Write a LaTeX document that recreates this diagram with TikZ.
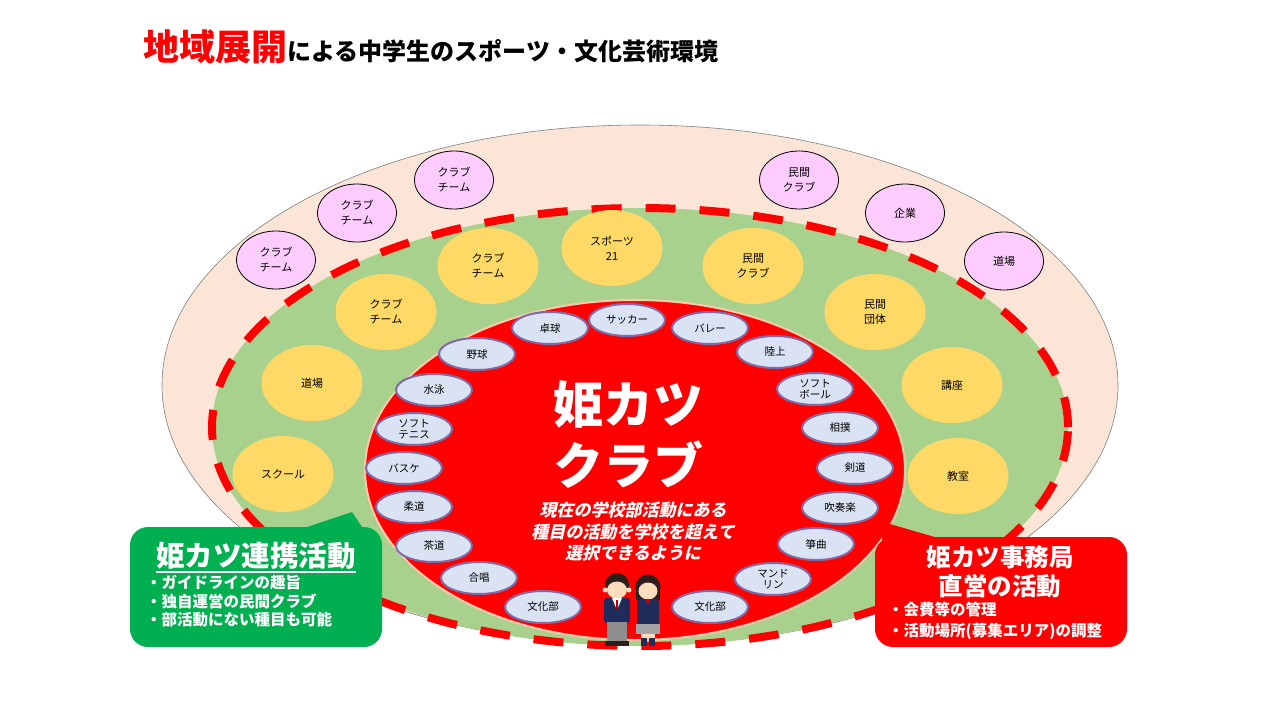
\documentclass[tikz,border=0pt]{standalone}
\usepackage{fontspec}
\setmainfont{Noto Sans CJK JP}
\newfontfamily\slantfont{Noto Sans CJK JP}[FakeSlant=0.22]
\usetikzlibrary{shapes.geometric}
\definecolor{peach}{HTML}{FBE5D6}
\definecolor{lgreen}{HTML}{A9D18E}
\definecolor{yel}{HTML}{FFD966}
\definecolor{pinkc}{HTML}{FFCCFF}
\definecolor{redc}{HTML}{FF0000}
\definecolor{lblue}{HTML}{DAE3F3}
\definecolor{ovalborder}{HTML}{7F6AA6}
\definecolor{greenbox}{HTML}{00B050}
\definecolor{redborder}{HTML}{F8CBAD}
\definecolor{hair}{HTML}{2E1E1A}
\definecolor{skin}{HTML}{FDDCBE}
\definecolor{navy}{HTML}{1F2C5C}
\definecolor{grayp}{HTML}{8E8E8E}
\tikzset{
  sport/.style={ellipse, fill=lblue, draw=ovalborder, line width=2pt, minimum width=76pt, minimum height=32pt, inner sep=0pt, align=center, font=\fontsize{10.5}{11.5}\selectfont},
  yc/.style={ellipse, fill=yel, minimum width=101pt, minimum height=76pt, inner sep=0pt, align=center, font=\fontsize{11}{15}\selectfont},
  pc/.style={ellipse, fill=pinkc, draw=black, line width=0.8pt, minimum width=79pt, minimum height=58pt, inner sep=0pt, align=center, font=\fontsize{11}{15}\selectfont},
  bullet/.style={anchor=west, text=white, inner sep=0pt, font=\fontsize{15.5}{18}\selectfont\bfseries},
}
\begin{document}
\begin{tikzpicture}[x=1pt,y=-1pt]
\fill[white] (0,0) rectangle (1280,720);
\useasboundingbox (0,0) rectangle (1280,720);

% title
\node[anchor=base west, inner sep=0pt] (title) at (143,60)
  {{\color{redc}\fontsize{36}{40}\selectfont\bfseries 地域展開}{\fontsize{24}{28}\selectfont\bfseries による中学生のスポーツ・文化芸術環境}};

% layers
\fill[peach, draw=gray, line width=0.6pt] (640,385) ellipse [x radius=478pt, y radius=260pt];
\fill[lgreen] (640,427) ellipse [x radius=428pt, y radius=219pt];
\draw[redc, line width=8pt, dash pattern=on 30pt off 24pt] (640,427) ellipse [x radius=428pt, y radius=219pt];
\fill[redc, draw=redborder, line width=2pt] (635,470) ellipse [x radius=270pt, y radius=170pt];

% center text
\node[text=white, inner sep=0pt, font=\fontsize{50}{60}\selectfont\bfseries] (hime) at (628,405) {姫カツ};
\node[text=white, inner sep=0pt, font=\fontsize{50}{60}\selectfont\bfseries] (club) at (628,465) {クラブ};
\node[text=white, inner sep=0pt, align=center, font=\slantfont\bfseries\fontsize{17}{21.5}\selectfont] (desc) at (633,532)
  {現在の学校部活動にある\\種目の活動を学校を超えて\\選択できるように};

% sport ovals
\node[sport] (takkyu) at (550,328) {卓球};
\node[sport] (soccer) at (627,320) {サッカー};
\node[sport] (volley) at (710,328) {バレー};
\node[sport] (rikujo) at (775,352) {陸上};
\node[sport] (softball) at (815,389) {ソフト\\ボール};
\node[sport] (sumo) at (840,428) {相撲};
\node[sport] (kendo) at (855,468) {剣道};
\node[sport] (suiso) at (840,508) {吹奏楽};
\node[sport] (sokyoku) at (816,544) {箏曲};
\node[sport] (mando) at (773,579) {マンド\\リン};
\node[sport] (bunkaR) at (710,607) {文化部};
\node[sport] (bunkaL) at (543,607) {文化部};
\node[sport] (gassho) at (479,578) {合唱};
\node[sport] (sado) at (434,546) {茶道};
\node[sport] (judo) at (414,507) {柔道};
\node[sport] (basket) at (404,468) {バスケ};
\node[sport] (softtennis) at (414,429) {ソフト\\テニス};
\node[sport] (suiei) at (434,390) {水泳};
\node[sport] (yakyu) at (477,354) {野球};

% yellow circles
\node[yc] (y1) at (283,474) {スクール};
\node[yc] (y2) at (312,383) {道場};
\node[yc] (y3) at (386,312) {クラブ\\チーム};
\node[yc] (y4) at (488,266) {クラブ\\チーム};
\node[yc] (y5) at (612,248) {スポーツ\\21};
\node[yc] (y6) at (753,266) {民間\\クラブ};
\node[yc] (y7) at (875,312) {民間\\団体};
\node[yc] (y8) at (952,385) {講座};
\node[yc] (y9) at (958,476) {教室};

% pink circles
\node[pc] (p1) at (276,260) {クラブ\\チーム};
\node[pc] (p2) at (357,213) {クラブ\\チーム};
\node[pc] (p3) at (454,180) {クラブ\\チーム};
\node[pc] (p4) at (799,180) {民間\\クラブ};
\node[pc] (p5) at (905,213) {企業};
\node[pc] (p6) at (1004,261) {道場};

% kids
\fill[hair] (617,585) circle (12pt);
\fill[skin] (617,590) ellipse [x radius=10pt, y radius=8.5pt];
\fill[skin] (605,590) circle (2.5pt);
\fill[skin] (629,590) circle (2.5pt);
\fill[navy, rounded corners=3pt] (604,598) rectangle (630,623);
\fill[white] (612,598) -- (622,598) -- (617,610) -- cycle;
\fill[red!70!black] (616,600) rectangle (618,610);
\fill[grayp] (607,622) rectangle (627,641);
\fill[hair] (605,641) rectangle (629,646);
\fill[hair] (648,587) circle (12.5pt);
\fill[hair] (636,587) rectangle (660,600);
\fill[skin] (648,591) ellipse [x radius=9.5pt, y radius=8.5pt];
\fill[navy, rounded corners=3pt] (637,599) rectangle (659,625);
\fill[red!80!black] (645,599) -- (651,599) -- (648,604) -- cycle;
\fill[grayp!80] (636,624) rectangle (660,634);
\fill[skin] (641,634) rectangle (655,639);
\fill[navy] (641,638) rectangle (647,646);
\fill[navy] (649,638) rectangle (655,646);

% green callout
\fill[greenbox] (298,530) -- (352,512) -- (364,530) -- cycle;
\fill[greenbox, rounded corners=18pt] (130,527) rectangle (382,647);
\node[text=white, inner sep=0pt, font=\fontsize{28.5}{32}\selectfont\bfseries] (gtitle) at (256,556) {姫カツ連携活動};
\draw[white, line width=1.4pt] ([yshift=-2pt]gtitle.south west) -- ([yshift=-2pt]gtitle.south east);
\node[bullet] (g1) at (146,583) {・ガイドラインの趣旨};
\node[bullet] (g2) at (146,601) {・独自運営の民間クラブ};
\node[bullet] (g3) at (146,620) {・部活動にない種目も可能};

% red callout
\fill[redc] (882,540) -- (883,522) -- (945,540) -- cycle;
\fill[redc, rounded corners=18pt] (875,537) rectangle (1127,647);
\node[text=white, inner sep=0pt, align=center, font=\fontsize{24.5}{29}\selectfont\bfseries] (rtitle) at (1000,572) {姫カツ事務局\\直営の活動};
\node[bullet] (r1) at (888,610) {・会費等の管理};
\node[bullet] (r2) at (888,631) {・活動場所(募集エリア)の調整};
\end{tikzpicture}
\end{document}
